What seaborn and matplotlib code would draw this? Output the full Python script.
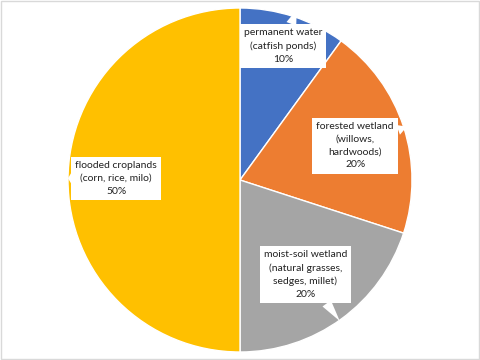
import matplotlib
matplotlib.use("Agg")
import matplotlib.pyplot as plt
import seaborn as sns
from matplotlib.patches import Rectangle

# Wetland habitat shares
labels = [
    "permanent water\n(catfish ponds)\n10%",
    "forested wetland\n(willows,\nhardwoods)\n20%",
    "moist-soil wetland\n(natural grasses,\nsedges, millet)\n20%",
    "flooded croplands\n(corn, rice, milo)\n50%",
]
shares = [10, 20, 20, 50]
colors = ["#4472C4", "#ED7D31", "#A5A5A5", "#FFC000"]

# callout box centres and pointer tips (data coords, pie radius = 1)
label_pos = [(0.25, 0.78), (0.67, 0.20), (0.38, -0.55), (-0.72, 0.01)]
tip_pos = [(0.33, 0.99), (0.97, 0.31), (0.58, -0.82), (-1.0, 0.01)]

sns.set_theme(style="white")
plt.rcParams["font.family"] = ["Lato", "DejaVu Sans"]

fig = plt.figure(figsize=(4.8, 3.6), dpi=100)
ax = fig.add_axes([68 / 480, 8 / 360, 344 / 480, 344 / 360])

ax.pie(shares, colors=colors, startangle=90, counterclock=False,
       radius=1, wedgeprops=dict(edgecolor="white", linewidth=1))
ax.set_xlim(-1, 1)
ax.set_ylim(-1, 1)
ax.set_aspect("equal")
ax.axis("off")

for text, (tx, ty), (px, py) in zip(labels, label_pos, tip_pos):
    ax.annotate(text, xy=(px, py), xytext=(tx, ty), ha="center", va="center",
                fontsize=7.5, color="#222222", linespacing=1.55,
                bbox=dict(boxstyle="square,pad=0.4", fc="white", ec="none"),
                arrowprops=dict(arrowstyle="wedge,tail_width=1.0,shrink_factor=0.5",
                                fc="white", ec="none", shrinkA=0, shrinkB=0))

# light frame round the whole figure
fig.patches.append(Rectangle((0.002, 0.003), 0.996, 0.994, transform=fig.transFigure,
                             fill=False, edgecolor="#D9D9D9", linewidth=1))

fig.savefig("out.png", dpi=100)
